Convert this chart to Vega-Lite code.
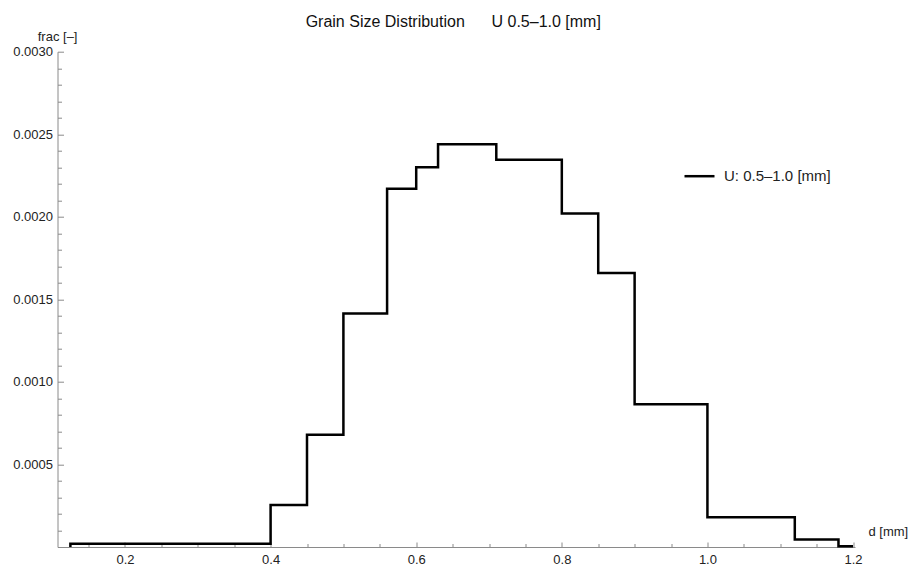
{
  "$schema": "https://vega.github.io/schema/vega-lite/v6.json",
  "width": 797.5,
  "height": 495.3,
  "autosize": {"type": "none"},
  "padding": {"left": 57.5, "top": 51.7, "right": 57, "bottom": 19},
  "background": "white",
  "title": {
    "text": "Grain Size Distribution\u00a0\u00a0\u00a0\u00a0\u00a0\u00a0U 0.5–1.0 [mm]",
    "anchor": "middle",
    "frame": "group",
    "dx": -3,
    "offset": -13,
    "baseline": "alphabetic",
    "font": "Liberation Sans",
    "fontSize": 16,
    "fontWeight": "normal",
    "color": "#111"
  },
  "data": {
    "values": [
      {"i": 0, "d": 0.125, "frac": 0, "series": "U: 0.5–1.0 [mm]"},
      {"i": 1, "d": 0.125, "frac": 0.00002, "series": "U: 0.5–1.0 [mm]"},
      {"i": 2, "d": 0.4, "frac": 0.000255, "series": "U: 0.5–1.0 [mm]"},
      {"i": 3, "d": 0.45, "frac": 0.00068, "series": "U: 0.5–1.0 [mm]"},
      {"i": 4, "d": 0.5, "frac": 0.001415, "series": "U: 0.5–1.0 [mm]"},
      {"i": 5, "d": 0.56, "frac": 0.00217, "series": "U: 0.5–1.0 [mm]"},
      {"i": 6, "d": 0.6, "frac": 0.0023, "series": "U: 0.5–1.0 [mm]"},
      {"i": 7, "d": 0.63, "frac": 0.00244, "series": "U: 0.5–1.0 [mm]"},
      {"i": 8, "d": 0.71, "frac": 0.002345, "series": "U: 0.5–1.0 [mm]"},
      {"i": 9, "d": 0.8, "frac": 0.00202, "series": "U: 0.5–1.0 [mm]"},
      {"i": 10, "d": 0.85, "frac": 0.00166, "series": "U: 0.5–1.0 [mm]"},
      {"i": 11, "d": 0.9, "frac": 0.000865, "series": "U: 0.5–1.0 [mm]"},
      {"i": 12, "d": 1.0, "frac": 0.00018, "series": "U: 0.5–1.0 [mm]"},
      {"i": 13, "d": 1.12, "frac": 0.000045, "series": "U: 0.5–1.0 [mm]"},
      {"i": 14, "d": 1.18, "frac": 0.000005, "series": "U: 0.5–1.0 [mm]"},
      {"i": 15, "d": 1.2, "frac": 0.000005, "series": "U: 0.5–1.0 [mm]"}
    ]
  },
  "mark": {
    "type": "line",
    "interpolate": "step-after",
    "strokeWidth": 2.5,
    "strokeJoin": "miter",
    "strokeCap": "butt"
  },
  "encoding": {
    "x": {
      "field": "d",
      "type": "quantitative",
      "scale": {"domain": [0.1073, 1.2027], "nice": false, "zero": false},
      "axis": {
        "title": "d [mm]",
        "titleX": 810.5,
        "titleY": -12,
        "titleAlign": "left",
        "titleBaseline": "alphabetic",
        "titleAngle": 0,
        "titleFontSize": 13,
        "titleFontWeight": "normal",
        "titleColor": "#222",
        "values": [0.15, 0.2, 0.25, 0.3, 0.35, 0.4, 0.45, 0.5, 0.55, 0.6, 0.65, 0.7, 0.75, 0.8, 0.85, 0.9, 0.95, 1.0, 1.05, 1.1, 1.15, 1.2],
        "labelExpr": "abs(datum.value * 5 - round(datum.value * 5)) < 0.001 ? format(datum.value, '.1f') : ''",
        "tickSize": {"condition": {"test": "abs(datum.value * 5 - round(datum.value * 5)) < 0.001", "value": -5}, "value": -3.5},
        "domainColor": "#8a8a8a",
        "tickColor": "#8a8a8a",
        "domainWidth": 1,
        "tickWidth": 1,
        "labelFontSize": 13,
        "labelColor": "#222",
        "labelPadding": 11,
        "labelOverlap": false,
        "labelFlush": false,
        "grid": false
      }
    },
    "y": {
      "field": "frac",
      "type": "quantitative",
      "scale": {"domain": [0, 0.003], "nice": false},
      "axis": {
        "title": "frac [–]",
        "titleX": 19.5,
        "titleY": -11.7,
        "titleAlign": "right",
        "titleBaseline": "alphabetic",
        "titleAngle": 0,
        "titleFontSize": 13,
        "titleFontWeight": "normal",
        "titleColor": "#222",
        "values": [0.0001, 0.0002, 0.0003, 0.0004, 0.0005, 0.0006, 0.0007, 0.0008, 0.0009, 0.001, 0.0011, 0.0012, 0.0013, 0.0014, 0.0015, 0.0016, 0.0017, 0.0018, 0.0019, 0.002, 0.0021, 0.0022, 0.0023, 0.0024, 0.0025, 0.0026, 0.0027, 0.0028, 0.0029, 0.003],
        "labelExpr": "round(datum.value * 10000) % 5 == 0 ? format(datum.value, '.4f') : ''",
        "tickSize": {"condition": {"test": "round(datum.value * 10000) % 5 == 0", "value": -6}, "value": -4},
        "domainColor": "#8a8a8a",
        "tickColor": "#8a8a8a",
        "domainWidth": 1,
        "tickWidth": 1,
        "labelFontSize": 13,
        "labelColor": "#222",
        "labelPadding": 11,
        "labelOverlap": false,
        "labelFlush": false,
        "grid": false
      }
    },
    "order": {"field": "i", "type": "quantitative"},
    "color": {
      "field": "series",
      "type": "nominal",
      "scale": {"range": ["black"]},
      "legend": {
        "title": null,
        "orient": "none",
        "legendX": 625.5,
        "legendY": 108,
        "padding": 0,
        "symbolType": "stroke",
        "symbolSize": 900,
        "symbolStrokeWidth": 2.5,
        "labelFontSize": 15,
        "labelColor": "#222",
        "labelOffset": 8
      }
    }
  },
  "config": {
    "view": {"stroke": null},
    "font": "Liberation Sans"
  }
}
